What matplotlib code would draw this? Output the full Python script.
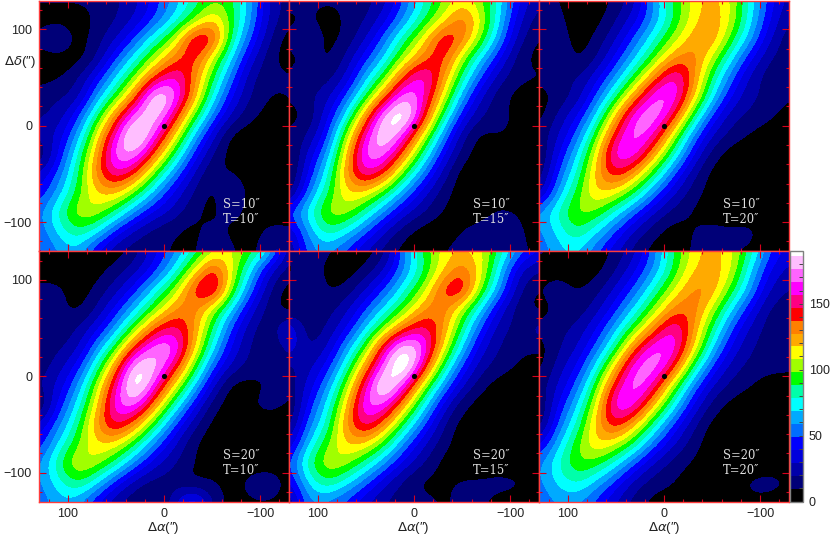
import matplotlib
matplotlib.use("Agg")
import matplotlib.pyplot as plt
from matplotlib.colors import ListedColormap, BoundaryNorm
from matplotlib.ticker import FixedLocator

plt.rcParams['font.family'] = ['Liberation Sans', 'DejaVu Sans']
plt.rcParams['mathtext.fontset'] = 'dejavusans'

# offsets of the grid nodes, arcsec
ra_nodes = [130, 110, 90, 70, 50, 30, 10, -10, -30, -50, -70, -90, -110, -130]
dec_nodes = [130, 110, 90, 70, 50, 30, 10, -10, -30, -50, -70, -90, -110, -130]

# values, row by row from the top
s10_t10 = [
    [12, 12, 12, 12, 18, 25, 44, 62, 82, 95, 92, 62, 25, 15],
    [3, 3, 3, 12, 18, 30, 48, 70, 92, 122, 95, 58, 25, 12],
    [14, 30, 3, 15, 28, 50, 78, 102, 158, 152, 85, 48, 18, 3],
    [3, 3, 3, 18, 48, 75, 105, 132, 148, 108, 68, 32, 12, 3],
    [5, 8, 18, 40, 70, 100, 140, 165, 135, 92, 52, 20, 12, 12],
    [15, 18, 22, 60, 92, 135, 198, 178, 130, 75, 38, 18, 8, 10],
    [18, 22, 45, 85, 135, 178, 190, 152, 98, 55, 26, 12, 5, 10],
    [22, 32, 60, 112, 162, 205, 168, 120, 68, 32, 5, 3, 3, 8],
    [5, 38, 78, 125, 180, 180, 135, 88, 46, 18, 3, 3, 3, 3],
    [28, 52, 85, 135, 160, 140, 95, 58, 28, 8, 12, 3, 3, 3],
    [40, 62, 94, 118, 122, 95, 62, 36, 18, 5, 22, 5, 3, 3],
    [54, 82, 108, 108, 85, 55, 36, 25, 12, 5, 18, 3, 3, 3],
    [50, 72, 88, 74, 42, 25, 14, 10, 5, 15, 5, 3, 15, 12],
    [45, 58, 68, 35, 20, 12, 10, 10, 5, 25, 12, 3, 25, 18],
]
s10_t15 = [
    [18, 12, 12, 12, 15, 25, 50, 78, 98, 112, 100, 72, 40, 20],
    [3, 12, 3, 12, 18, 35, 60, 85, 108, 140, 110, 68, 30, 14],
    [14, 24, 5, 12, 28, 55, 85, 112, 155, 138, 100, 58, 22, 8],
    [3, 14, 5, 22, 45, 70, 105, 132, 148, 105, 68, 38, 12, 5],
    [14, 14, 14, 30, 65, 95, 145, 170, 132, 85, 48, 22, 12, 12],
    [10, 18, 25, 50, 88, 135, 182, 162, 115, 62, 28, 12, 5, 3],
    [5, 10, 35, 72, 130, 190, 205, 150, 88, 40, 20, 12, 8, 3],
    [12, 18, 45, 102, 162, 196, 165, 112, 60, 22, 5, 12, 5, 8],
    [3, 32, 60, 120, 178, 175, 132, 82, 40, 14, 3, 3, 3, 3],
    [3, 40, 75, 130, 162, 140, 92, 55, 25, 3, 3, 3, 3, 3],
    [8, 55, 88, 118, 115, 90, 58, 32, 14, 3, 3, 3, 3, 3],
    [50, 75, 105, 106, 82, 55, 32, 20, 8, 5, 3, 12, 8, 3],
    [28, 60, 88, 72, 50, 28, 12, 3, 3, 10, 15, 25, 12, 3],
    [14, 55, 60, 45, 28, 14, 5, 3, 10, 14, 20, 15, 12, 8],
]
s10_t20 = [
    [14, 10, 3, 3, 12, 25, 62, 90, 112, 124, 108, 75, 44, 25],
    [14, 14, 3, 5, 18, 35, 60, 88, 112, 128, 110, 72, 40, 18],
    [14, 18, 3, 12, 28, 52, 78, 102, 125, 132, 95, 62, 30, 12],
    [8, 22, 5, 18, 42, 68, 95, 128, 136, 108, 72, 40, 20, 12],
    [14, 18, 18, 35, 60, 92, 132, 168, 135, 88, 52, 26, 12, 10],
    [3, 12, 22, 50, 85, 130, 172, 172, 125, 72, 38, 20, 18, 12],
    [5, 22, 38, 70, 122, 172, 180, 150, 90, 46, 22, 18, 12, 3],
    [12, 28, 52, 95, 150, 176, 160, 108, 58, 28, 16, 8, 3, 8],
    [5, 38, 68, 115, 170, 168, 125, 80, 40, 14, 3, 3, 3, 3],
    [8, 50, 80, 125, 150, 125, 88, 50, 22, 5, 3, 3, 3, 3],
    [20, 62, 94, 122, 112, 88, 55, 30, 14, 5, 3, 3, 3, 3],
    [60, 82, 104, 98, 75, 50, 28, 15, 8, 3, 3, 3, 3, 3],
    [55, 72, 90, 70, 48, 26, 12, 3, 10, 15, 12, 15, 3, 3],
    [50, 65, 70, 50, 30, 14, 5, 3, 12, 14, 10, 8, 3, 3],
]
s20_t10 = [
    [3, 14, 3, 3, 3, 14, 35, 55, 78, 105, 110, 95, 70, 18],
    [3, 3, 3, 5, 14, 25, 45, 70, 108, 150, 112, 68, 28, 14],
    [14, 14, 3, 12, 25, 45, 72, 100, 145, 168, 100, 52, 18, 3],
    [14, 14, 5, 20, 42, 68, 98, 128, 135, 105, 68, 32, 12, 3],
    [10, 10, 20, 35, 62, 98, 140, 155, 132, 88, 46, 20, 12, 38],
    [10, 18, 25, 58, 92, 148, 178, 178, 125, 72, 36, 18, 8, 28],
    [14, 24, 42, 80, 132, 195, 185, 152, 98, 50, 26, 15, 10, 10],
    [18, 32, 58, 104, 158, 205, 165, 115, 70, 30, 3, 5, 12, 12],
    [3, 42, 72, 116, 170, 175, 128, 80, 42, 12, 3, 10, 15, 8],
    [30, 55, 85, 130, 155, 130, 88, 50, 22, 5, 5, 3, 3, 3],
    [40, 70, 98, 118, 115, 88, 55, 30, 10, 3, 3, 3, 3, 3],
    [55, 88, 112, 106, 84, 55, 32, 20, 10, 3, 3, 3, 3, 3],
    [55, 75, 92, 72, 42, 22, 14, 14, 5, 12, 5, 16, 20, 5],
    [50, 65, 62, 38, 20, 12, 5, 25, 60, 16, 5, 8, 8, 5],
]
s20_t15 = [
    [14, 14, 14, 3, 3, 14, 58, 92, 112, 118, 112, 85, 55, 40],
    [3, 22, 3, 3, 12, 30, 58, 85, 115, 138, 115, 68, 28, 18],
    [14, 25, 8, 12, 30, 50, 78, 102, 145, 158, 100, 58, 20, 8],
    [3, 14, 14, 26, 48, 72, 95, 128, 136, 105, 68, 32, 12, 5],
    [45, 10, 20, 38, 68, 100, 138, 155, 132, 88, 46, 22, 15, 28],
    [40, 16, 28, 60, 95, 158, 195, 175, 118, 68, 32, 18, 12, 12],
    [14, 25, 42, 78, 130, 178, 210, 152, 88, 46, 22, 15, 8, 3],
    [14, 32, 58, 102, 158, 205, 165, 105, 60, 30, 12, 3, 3, 8],
    [5, 42, 72, 118, 175, 168, 122, 74, 36, 10, 3, 3, 3, 3],
    [10, 55, 80, 132, 158, 130, 85, 50, 20, 3, 12, 3, 3, 3],
    [28, 68, 98, 120, 118, 90, 55, 30, 14, 3, 3, 3, 3, 3],
    [45, 88, 110, 104, 82, 58, 34, 20, 5, 3, 3, 3, 3, 3],
    [35, 70, 90, 72, 52, 30, 15, 5, 8, 12, 12, 15, 12, 8],
    [14, 60, 55, 45, 30, 18, 14, 14, 8, 12, 12, 5, 5, 5],
]
s20_t20 = [
    [14, 5, 3, 3, 12, 25, 55, 88, 112, 124, 112, 85, 50, 35],
    [3, 5, 3, 5, 18, 38, 60, 90, 118, 126, 112, 70, 38, 25],
    [10, 18, 8, 15, 32, 52, 80, 108, 132, 130, 95, 60, 28, 18],
    [3, 12, 12, 25, 45, 72, 100, 132, 138, 108, 70, 40, 16, 14],
    [14, 16, 22, 38, 65, 95, 132, 165, 132, 88, 50, 26, 14, 14],
    [3, 18, 28, 52, 85, 138, 172, 170, 122, 70, 36, 20, 14, 14],
    [5, 24, 40, 72, 122, 172, 178, 148, 88, 46, 24, 16, 14, 12],
    [14, 30, 52, 95, 152, 178, 156, 102, 56, 28, 16, 10, 3, 5],
    [5, 40, 68, 112, 172, 165, 118, 74, 38, 15, 5, 3, 3, 3],
    [8, 52, 80, 125, 150, 120, 80, 46, 22, 5, 3, 3, 3, 3],
    [35, 65, 98, 120, 110, 85, 52, 30, 14, 3, 3, 3, 3, 3],
    [55, 80, 100, 95, 74, 48, 26, 15, 8, 3, 3, 3, 3, 3],
    [55, 72, 82, 65, 45, 24, 14, 10, 3, 3, 8, 12, 16, 10],
    [50, 60, 60, 45, 28, 14, 5, 5, 5, 8, 5, 8, 5, 3],
]

panels = [s10_t10, s10_t15, s10_t20, s20_t10, s20_t15, s20_t20]
panel_s = ['10', '10', '10', '20', '20', '20']
panel_t = ['10', '15', '20', '10', '15', '20']

# 20 bands of the wedge
levels = [0, 9.8, 19.6, 29.4, 39.2, 49, 58.8, 68.6, 78.4, 88.2, 98, 107.8,
          117.6, 127.4, 137.2, 147, 156.8, 166.6, 176.4, 186.2, 190]
band_colors = ['#000000', '#000078', '#0000aa', '#0000dc', '#0000ff', '#006eff',
               '#00aaff', '#00ffff', '#00ffaa', '#00ff00', '#a0ff00', '#ffff00',
               '#ffaa00', '#ff8000', '#ff0000', '#ff0082', '#ff00ff', '#ff64ff',
               '#ffbeff', '#ffffff']

cen_ra = [0]
cen_dec = [0]
major_ticks = [-100, 0, 100]
minor_ticks = [-120, -80, -60, -40, -20, 20, 40, 60, 80, 120]
tick_text = ['\u2212100', '0', '100']
bar_ticks = [0, 50, 100, 150]
bar_minor = [10, 20, 30, 40, 60, 70, 80, 90, 110, 120, 130, 140, 160, 170, 180]

W = 830
H = 537
cmap = ListedColormap(band_colors)
norm = BoundaryNorm(levels, cmap.N, clip=True)


def caja(x0, y0, x1, y1):
    # pixels, y from the top
    return [x0 / W, 1 - y1 / H, (x1 - x0) / W, (y1 - y0) / H]


fig = plt.figure(figsize=(W / 100, H / 100), dpi=100)
lefts = [39, 289, 539]
tops = [0.5, 251]
half = 10
ext = [ra_nodes[0] + half, ra_nodes[-1] - half, dec_nodes[-1] - half, dec_nodes[0] + half]
roja = '#d8001c'

for n, datos in enumerate(panels):
    col = n % 3
    fila = n // 3
    ax = fig.add_axes(caja(lefts[col], tops[fila], lefts[col] + 250, tops[fila] + 250.5))
    im = ax.imshow(datos, extent=ext, origin='upper', cmap=cmap, norm=norm,
                   interpolation='bicubic', interpolation_stage='data', aspect='auto')
    ax.set_xlim(130, -130)
    ax.set_ylim(-130, 130)
    ax.scatter(cen_ra, cen_dec, s=14, color='black', zorder=5, linewidths=0)

    ax.xaxis.set_major_locator(FixedLocator(major_ticks))
    ax.yaxis.set_major_locator(FixedLocator(major_ticks))
    ax.xaxis.set_minor_locator(FixedLocator(minor_ticks))
    ax.yaxis.set_minor_locator(FixedLocator(minor_ticks))
    ax.tick_params(which='major', direction='in', length=5, width=0.8, color=roja,
                   top=True, right=True, labelsize=9, labelcolor='#222222', pad=5)
    ax.tick_params(which='minor', direction='in', length=2.5, width=0.8, color=roja,
                   top=True, right=True)
    if fila == 1:
        ax.set_xticklabels(tick_text)
    else:
        ax.set_xticklabels([])
    if col == 0:
        ax.set_yticklabels(tick_text)
    else:
        ax.set_yticklabels([])
    for sp in ax.spines.values():
        sp.set_color('#ff3c3c')
        sp.set_linewidth(1.0)

    ax.text(0.81, 0.185, "S=" + panel_s[n] + "\u2033", transform=ax.transAxes, color='#e0e0e0',
            fontsize=8.3, family='DejaVu Serif', ha='center', va='center')
    ax.text(0.81, 0.125, "T=" + panel_t[n] + "\u2033", transform=ax.transAxes, color='#e0e0e0',
            fontsize=8.3, family='DejaVu Serif', ha='center', va='center')

# wedge
cax = fig.add_axes(caja(790, 251, 802.5, 501.5))
cb = fig.colorbar(im, cax=cax, spacing='proportional', ticks=bar_ticks)
cb.ax.yaxis.set_minor_locator(FixedLocator(bar_minor))
cb.ax.tick_params(which='major', direction='in', length=3, width=0.7, color='#444444',
                  labelsize=9, labelcolor='#222222', pad=4.5)
cb.ax.tick_params(which='minor', direction='in', length=3, width=0.7, color='#444444')
cb.outline.set_edgecolor('#808080')
cb.outline.set_linewidth(1.0)

fig.text(20 / W, 1 - 62 / H, "$\\Delta\\delta$(\u2033)",
         fontsize=9.5, color='#222222', ha='center', va='center')
for cx in [163, 413, 664]:
    fig.text(cx / W, 1 - 528.5 / H, "$\\Delta\\alpha$(\u2033)",
             fontsize=9.5, color='#222222', ha='center', va='center')

fig.savefig("out.png", dpi=100)
